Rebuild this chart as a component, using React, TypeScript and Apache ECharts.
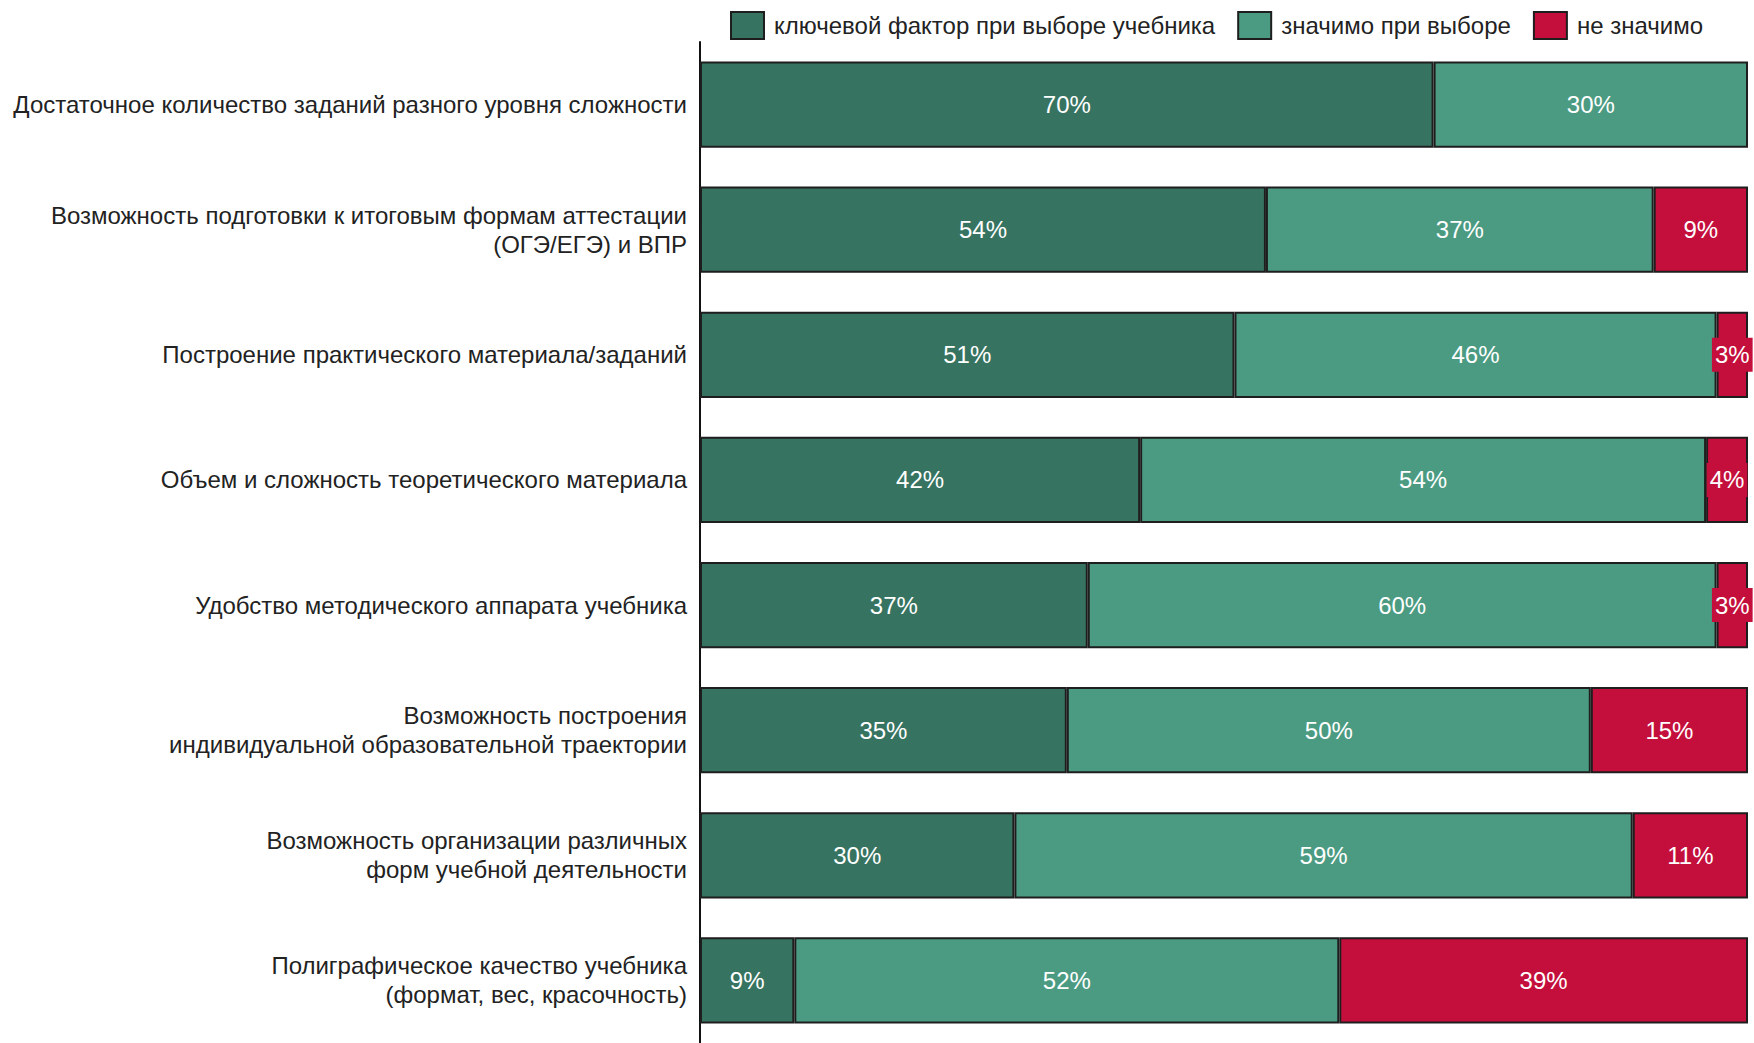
import React, { useEffect, useRef } from "react";
import * as echarts from "echarts";

const categories = [
  "Достаточное количество заданий разного уровня сложности",
  "Возможность подготовки к итоговым формам аттестации\n(ОГЭ/ЕГЭ) и ВПР",
  "Построение практического материала/заданий",
  "Объем и сложность теоретического материала",
  "Удобство методического аппарата учебника",
  "Возможность построения\nиндивидуальной образовательной траектории",
  "Возможность организации различных\nформ учебной деятельности",
  "Полиграфическое качество учебника\n(формат, вес, красочность)",
];
const keyFactor = [70, 54, 51, 42, 37, 35, 30, 9];
const significant = [30, 37, 46, 54, 60, 50, 59, 52];
const notSignificant: (number | null)[] = [null, 9, 3, 4, 3, 15, 11, 39];
const seriesNames = ["ключевой фактор при выборе учебника", "значимо при выборе", "не значимо"];
const colors = ["#377361", "#4b9b82", "#c40e3c"];

const FONT = "Liberation Sans, Arial, sans-serif";

export default function App() {
  const ref = useRef<HTMLDivElement>(null);
  useEffect(() => {
    if (!ref.current) return;
    const chart = echarts.init(ref.current, undefined, { renderer: "svg" });
    const datasets = [keyFactor, significant, notSignificant];
    chart.setOption({
      animation: false,
      textStyle: { fontFamily: FONT },
      legend: {
        top: 6,
        right: 46,
        icon: "rect",
        itemWidth: 33,
        itemHeight: 27,
        itemGap: 22,
        textStyle: { fontSize: 24, color: "#222", fontFamily: FONT, padding: [0, 0, 0, 5] },
        data: seriesNames,
      },
      grid: { left: 700, right: 6, top: 42, height: 1005.5, containLabel: false },
      xAxis: { type: "value", min: 0, max: 100, show: false },
      yAxis: {
        type: "category",
        inverse: true,
        data: categories,
        axisLine: { show: true, lineStyle: { color: "#111", width: 2 } },
        axisTick: { show: false },
        axisLabel: {
          fontSize: 24,
          color: "#222",
          fontFamily: FONT,
          margin: 13,
          lineHeight: 29,
          align: "right",
        },
      },
      series: datasets.map((d, i) => ({
        name: seriesNames[i],
        type: "bar",
        stack: "total",
        barCategoryGap: "31%",
        data: d,
        itemStyle: { color: colors[i], borderColor: "#1e1e1e", borderWidth: 2 },
        label: {
          show: true,
          position: "inside",
          color: "#fff",
          fontSize: 24,
          fontFamily: FONT,
          formatter: (p: any) => (p.value == null ? "" : p.value + "%"),
          ...(i === 2 ? { backgroundColor: colors[2], padding: [5, 3, 5, 3] } : {}),
        },
      })),
    });
    return () => chart.dispose();
  }, []);
  return (
    <div
      ref={ref}
      style={{ position: "fixed", left: 0, top: 0, width: 1754, height: 1043, background: "#fff" }}
    />
  );
}
